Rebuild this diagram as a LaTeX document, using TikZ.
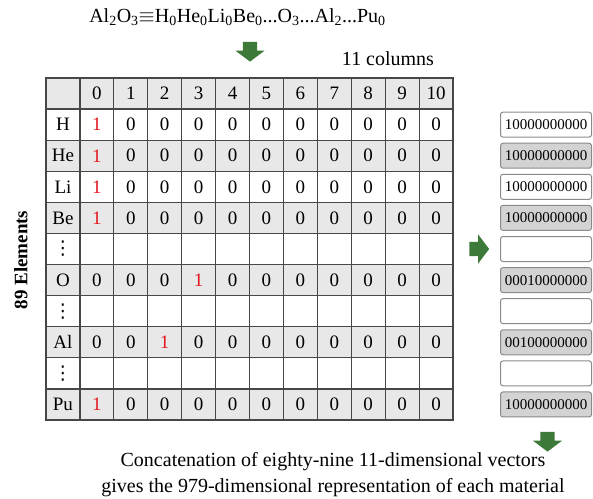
\documentclass[tikz,border=0pt]{standalone}
\usepackage{fontspec}
\setmainfont{Liberation Serif}
\newfontfamily\symfont{DejaVu Sans}
\usetikzlibrary{shapes.arrows}

\definecolor{cellgray}{HTML}{E8E8E8}
\definecolor{boxgray}{HTML}{D3D3D3}
\definecolor{gridline}{HTML}{474747}
\definecolor{boxline}{HTML}{8A8A8A}
\definecolor{onered}{HTML}{E3161E}
\definecolor{arrowgreen}{HTML}{3D7A3A}

\tikzset{
  cell/.style={draw=gridline, line width=1.2pt, minimum width=33.92pt,
    minimum height=31.09pt, inner sep=0pt, font=\fontsize{19}{22}\selectfont},
  vecbox/.style={draw=boxline, line width=1pt, rounded corners=2.5pt,
    minimum width=91pt, minimum height=25pt, inner sep=0pt,
    font=\fontsize{15}{18}\selectfont},
  greenarrow/.style={single arrow, fill=arrowgreen, draw=none, inner sep=7pt,
    minimum width=29pt, single arrow head extend=7.5pt,
    single arrow tip angle=106, minimum height=18.5pt},
  txt/.style={font=\fontsize{20}{24}\selectfont, inner sep=0pt}
}
% vertical ellipsis as a single glyph
\newcommand{\rowdots}{{\symfont\fontsize{19}{19}\selectfont ⋮}}

\begin{document}
\begin{tikzpicture}[x=1pt, y=-1pt]
\useasboundingbox (0,0) rectangle (593,498);

% composition written as element counts
\node[txt] (formula) at (237.5,17)
  {Al\textsubscript{2}O\textsubscript{3}$\equiv$H\textsubscript{0}He\textsubscript{0}Li\textsubscript{0}Be\textsubscript{0}...O\textsubscript{3}...Al\textsubscript{2}...Pu\textsubscript{0}};
\node[greenarrow, rotate=-90] (downA) at (250,49) {};
\node[txt] (ncols) at (388,59) {11 columns};

% header row of the one-hot table
\node[cell, fill=cellgray] (corner) at ({46+16.96},{78+15.545}) {};
\foreach \j in {0,...,10}
  \node[cell, fill=cellgray] (h\j) at ({46+33.92*(\j+1.5)},{78+15.545}) {\j};

% element rows and their encoded vectors
\foreach \lab/\hot/\gr/\bits [count=\i] in {
    H/0/0/10000000000, He/0/1/10000000000, Li/0/0/10000000000,
    Be/0/1/10000000000, {\rowdots}/-1/0/{}, O/3/1/00010000000,
    {\rowdots}/-1/0/{}, Al/2/1/00100000000, {\rowdots}/-1/0/{},
    Pu/0/1/10000000000}{
  \pgfmathsetmacro\yy{78+31.09*(\i+0.5)}
  \ifnum\gr=1 \def\cellfill{cellgray}\def\boxfill{boxgray}%
  \else \def\cellfill{white}\def\boxfill{white}\fi
  \node[cell, fill=\cellfill] (r\i) at ({46+16.96},\yy) {\lab};
  \foreach \j in {0,...,10}{
    \ifnum\hot<0 \def\val{}%
    \else\ifnum\j=\hot \def\val{\textcolor{onered}{1}}\else\def\val{0}\fi\fi
    \node[cell, fill=\cellfill] (c\i-\j) at ({46+33.92*(\j+1.5)},\yy) {\val};
  }
  \node[vecbox, fill=\boxfill] (v\i) at (546,\yy) {\bits};
}

\node[txt, font=\fontsize{19}{22}\selectfont\bfseries, rotate=90] (nelem) at (21,260) {89 Elements};

\node[greenarrow] (rightA) at (476.5,249) {};
\node[greenarrow, rotate=-90] (downB) at (547.5,439) {};

\node[txt, align=center, font=\fontsize{20}{26}\selectfont] (caption) at (333,475)
  {Concatenation of eighty-nine 11-dimensional vectors\\
   gives the 979-dimensional representation of each material};
\end{tikzpicture}
\end{document}
